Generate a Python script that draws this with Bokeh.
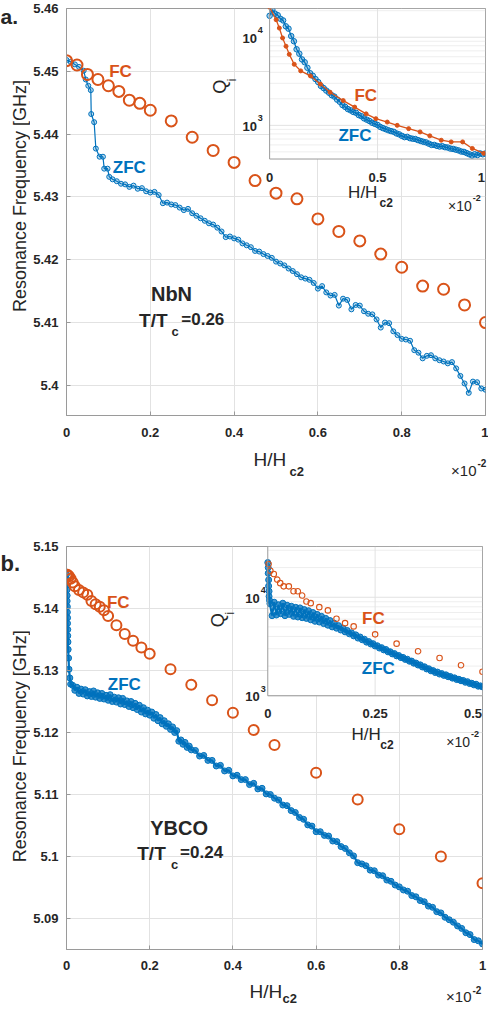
import numpy as np
from bokeh.plotting import figure
from bokeh.models import Range1d, LogScale, FixedTicker, Label, CustomJSTickFormatter
from bokeh.layouts import column, row
from bokeh.embed import file_html
from bokeh.resources import INLINE

BLUE = "#0072BD"
ORANGE = "#D95319"
AXC = "#9a9a9a"
GRID = "#e2e2e2"
MINOR = "#eeeeee"
TXT = "#262626"
FONT = "Liberation Sans"

# ------------------------------------------------------------------ data
x_ticks = [0, 0.2, 0.4, 0.6, 0.8, 1]
x_tick_labels = ["0", "0.2", "0.4", "0.6", "0.8", "1"]
ya_ticks = [5.40, 5.41, 5.42, 5.43, 5.44, 5.45, 5.46]
ya_tick_labels = ["5.4", "5.41", "5.42", "5.43", "5.44", "5.45", "5.46"]
yb_ticks = [5.09, 5.10, 5.11, 5.12, 5.13, 5.14, 5.15]
yb_tick_labels = ["5.09", "5.1", "5.11", "5.12", "5.13", "5.14", "5.15"]

# panel a (NbN) main: resonance frequency [GHz]
fc_a_x = [0, 0.025, 0.05, 0.075, 0.1, 0.125, 0.15, 0.175, 0.2, 0.25, 0.3, 0.35, 0.4,
          0.45, 0.5, 0.55, 0.6, 0.65, 0.7, 0.75, 0.8, 0.85, 0.9, 0.95, 1.0]
fc_a_f = [5.4517, 5.4510, 5.4495, 5.4487, 5.4477, 5.4468, 5.4454, 5.4449, 5.4438, 5.4421,
          5.4395, 5.4374, 5.4355, 5.4326, 5.4306, 5.4297, 5.4265, 5.4245, 5.4230, 5.4209,
          5.4188, 5.4158, 5.4153, 5.4128, 5.4100]
zfc_a_x = [0, 0.01, 0.02, 0.03, 0.041, 0.046, 0.052, 0.058, 0.059, 0.066, 0.07, 0.079,
           0.087, 0.09, 0.098, 0.102,
           0.11, 0.12, 0.13, 0.14, 0.15, 0.16, 0.17, 0.18, 0.19, 0.20,
           0.21, 0.22, 0.23, 0.24, 0.25, 0.26, 0.27, 0.28, 0.29, 0.30,
           0.31, 0.32, 0.33, 0.34, 0.35, 0.36, 0.37, 0.38, 0.39, 0.40,
           0.41, 0.42, 0.43, 0.44, 0.45, 0.46, 0.47, 0.48, 0.49, 0.50,
           0.51, 0.52, 0.53, 0.54, 0.55, 0.56, 0.57, 0.58, 0.59, 0.60,
           0.61, 0.62, 0.63, 0.64, 0.65, 0.66, 0.67, 0.68, 0.69, 0.70,
           0.71, 0.72, 0.73, 0.74, 0.75, 0.76, 0.77, 0.78, 0.79, 0.80,
           0.81, 0.82, 0.83, 0.84, 0.85, 0.86, 0.87, 0.88, 0.89, 0.90,
           0.91, 0.92, 0.93, 0.94, 0.95, 0.96, 0.97, 0.98, 0.99, 1.00]
zfc_a_f = [5.4518, 5.4515, 5.4511, 5.4507, 5.4501, 5.4487, 5.4477, 5.4470, 5.4432, 5.4419,
           5.4377, 5.4364, 5.4364, 5.4345, 5.4345, 5.4332,
           5.4328, 5.4325, 5.4321, 5.4320, 5.4316, 5.4318, 5.4313, 5.4314, 5.4309, 5.4307,
           5.4308, 5.4303, 5.4290, 5.4291, 5.4288, 5.4287, 5.4283, 5.4279, 5.4281, 5.4274,
           5.4270, 5.4266, 5.4262, 5.4258, 5.4256, 5.4251, 5.4245, 5.4236, 5.4237, 5.4234,
           5.4232, 5.4226, 5.4223, 5.4220, 5.4214, 5.4213, 5.4209, 5.4206, 5.4203, 5.4197,
           5.4194, 5.4191, 5.4186, 5.4182, 5.4177, 5.4172, 5.4170, 5.4168, 5.4163, 5.4154,
           5.4158, 5.4148, 5.4143, 5.4144, 5.4127, 5.4138, 5.4136, 5.4121, 5.4128, 5.4127,
           5.4118, 5.4114, 5.4113, 5.4105, 5.4092, 5.4100, 5.4099, 5.4086, 5.4080, 5.4074,
           5.4073, 5.4071, 5.4056, 5.4052, 5.4043, 5.4047, 5.4048, 5.4043, 5.4040, 5.4038,
           5.4035, 5.4037, 5.4027, 5.4015, 5.4003, 5.3988, 5.4006, 5.4005, 5.3995, 5.3993]

# panel a inset: internal quality factor Qi
ins_a_fc_x = [0, 0.03, 0.045, 0.06, 0.076, 0.091, 0.114, 0.144, 0.189, 0.235, 0.28, 0.341,
              0.394, 0.447, 0.492, 0.545, 0.591, 0.644, 0.697, 0.742, 0.795, 0.841, 0.894,
              0.939, 0.992]
ins_a_fc_q = [21900, 15800, 12700, 9800, 7900, 6390, 4930, 4150, 3640, 2940, 2370, 1910,
              1610, 1350, 1190, 1090, 1000, 918, 842, 760, 678, 649, 649, 547, 481]
ins_a_zfc_x = [0, 0.0125, 0.025, 0.0375, 0.05, 0.0625, 0.075, 0.0875, 0.1, 0.1125, 0.125,
               0.1375, 0.15, 0.1625, 0.175, 0.1875, 0.2, 0.2125, 0.225, 0.2375, 0.25, 0.2625,
               0.275, 0.2875, 0.3, 0.3125, 0.325, 0.3375, 0.35, 0.3625, 0.375, 0.3875, 0.4,
               0.4125, 0.425, 0.4375, 0.45, 0.4625, 0.475, 0.4875, 0.5, 0.5125, 0.525, 0.5375,
               0.55, 0.5625, 0.575, 0.5875, 0.6, 0.6125, 0.625, 0.6375, 0.65, 0.6625, 0.675,
               0.6875, 0.7, 0.7125, 0.725, 0.7375, 0.75, 0.7625, 0.775, 0.7875, 0.8, 0.8125,
               0.825, 0.8375, 0.85, 0.8625, 0.875, 0.8875, 0.9, 0.9125, 0.925, 0.9375, 0.95,
               0.9625, 0.975, 0.9875, 1.0]
ins_a_zfc_q = [17500, 20500, 18500, 17800, 16200, 15500, 13300, 12500, 10300, 9000, 7300,
               6500, 5600, 5200, 4500, 3900, 3650, 3350, 3100, 2800, 2650, 2480, 2350, 2200,
               2120, 1960, 1850, 1700, 1620, 1530, 1480, 1420, 1390, 1310, 1270, 1200, 1160,
               1120, 1070, 1040, 1010, 960, 930, 905, 880, 860, 845, 810, 790, 760, 735, 740,
               715, 705, 700, 680, 665, 650, 640, 620, 600, 600, 585, 575, 580, 565, 560, 545,
               540, 530, 520, 505, 500, 485, 470, 455, 470, 460, 480, 470, 480]
ins_a_x_ticks = [0, 0.5, 1]
ins_a_x_tick_labels = ["0", "0.5", "1"]

# panel b (YBCO) main
fc_b_x = [0, 0.003, 0.006, 0.01, 0.015, 0.02, 0.03, 0.04, 0.05, 0.06, 0.07, 0.08, 0.09, 0.1,
          0.12, 0.14, 0.16, 0.18, 0.2, 0.25, 0.3, 0.35, 0.4, 0.45, 0.5, 0.6, 0.7, 0.8, 0.9, 1.0]
fc_b_f = [5.1455, 5.1454, 5.1452, 5.1448, 5.1442, 5.1436, 5.1430, 5.1426, 5.1422, 5.1412,
          5.1407, 5.1403, 5.1397, 5.1388, 5.1373, 5.1359, 5.1348, 5.1337, 5.1327, 5.1302,
          5.1277, 5.1252, 5.1232, 5.1204, 5.1180, 5.1135, 5.1092, 5.1044, 5.1000, 5.0957]
zfc_b_x = [0, 0.0005, 0.001, 0.001, 0.0015, 0.0015, 0.002, 0.002, 0.0025, 0.0025, 0.003,
           0.003, 0.0035, 0.004, 0.005, 0.006, 0.008, 0.010,
           0.015, 0.020, 0.025, 0.030, 0.035, 0.040, 0.045, 0.050, 0.055, 0.060,
           0.065, 0.070, 0.075, 0.080, 0.085, 0.090, 0.095, 0.100, 0.105, 0.110,
           0.115, 0.120, 0.125, 0.130, 0.135, 0.140, 0.145, 0.150, 0.155, 0.160,
           0.165, 0.170, 0.175, 0.180, 0.185, 0.190, 0.195, 0.200, 0.205, 0.210,
           0.215, 0.220, 0.225, 0.230, 0.235, 0.240, 0.245, 0.250, 0.255, 0.260,
           0.265, 0.270, 0.275, 0.280, 0.285, 0.290, 0.295, 0.300,
           0.31, 0.32, 0.33, 0.34, 0.35, 0.36, 0.37, 0.38, 0.39, 0.40,
           0.41, 0.42, 0.43, 0.44, 0.45, 0.46, 0.47, 0.48, 0.49, 0.50,
           0.51, 0.52, 0.53, 0.54, 0.55, 0.56, 0.57, 0.58, 0.59, 0.60,
           0.61, 0.62, 0.63, 0.64, 0.65, 0.66, 0.67, 0.68, 0.69, 0.70,
           0.71, 0.72, 0.73, 0.74, 0.75, 0.76, 0.77, 0.78, 0.79, 0.80,
           0.81, 0.82, 0.83, 0.84, 0.85, 0.86, 0.87, 0.88, 0.89, 0.90,
           0.91, 0.92, 0.93, 0.94, 0.95, 0.96, 0.97, 0.98, 0.99, 1.00]
zfc_b_f = [5.1455, 5.1447, 5.1438, 5.1430, 5.1421, 5.1412, 5.1403, 5.1394, 5.1385, 5.1376,
           5.1366, 5.1356, 5.1346, 5.1334, 5.1320, 5.1302, 5.1288, 5.1278,
           5.1276, 5.1268, 5.1273, 5.1263, 5.1270, 5.1262, 5.1269, 5.1259, 5.1266, 5.1258,
           5.1267, 5.1257, 5.1264, 5.1255, 5.1263, 5.1254, 5.1260, 5.1252, 5.1261, 5.1250,
           5.1257, 5.1249, 5.1256, 5.1246, 5.1255, 5.1245, 5.1251, 5.1242, 5.1250, 5.1240,
           5.1247, 5.1237, 5.1244, 5.1233, 5.1240, 5.1230, 5.1236, 5.1228, 5.1233, 5.1223,
           5.1229, 5.1219, 5.1224, 5.1214, 5.1219, 5.1210, 5.1214, 5.1205, 5.1209, 5.1200,
           5.1203, 5.1186, 5.1188, 5.1181, 5.1184, 5.1176, 5.1178, 5.1172,
           5.1171, 5.1162, 5.1163, 5.1155, 5.1155, 5.1146, 5.1147, 5.1138, 5.1139, 5.1130,
           5.1131, 5.1124, 5.1124, 5.1116, 5.1118, 5.1109, 5.1110, 5.1101, 5.1100, 5.1094,
           5.1091, 5.1083, 5.1082, 5.1074, 5.1071, 5.1063, 5.1060, 5.1051, 5.1049, 5.1040,
           5.1040, 5.1034, 5.1033, 5.1025, 5.1024, 5.1016, 5.1013, 5.1006, 5.1001, 5.0990,
           5.0988, 5.0985, 5.0978, 5.0977, 5.0970, 5.0969, 5.0962, 5.0960, 5.0954, 5.0951,
           5.0946, 5.0944, 5.0937, 5.0935, 5.0929, 5.0927, 5.0920, 5.0918, 5.0911, 5.0909,
           5.0902, 5.0898, 5.0894, 5.0888, 5.0884, 5.0877, 5.0874, 5.0866, 5.0864, 5.0859]

# panel b inset
ins_b_fc_x = [0.002, 0.006, 0.014, 0.022, 0.029, 0.037, 0.049, 0.06, 0.07, 0.08, 0.09, 0.1,
              0.12, 0.14, 0.16, 0.18, 0.2, 0.25, 0.3, 0.35, 0.4, 0.45, 0.5]
ins_b_fc_q = [21700, 18600, 17200, 15100, 13900, 12900, 12900, 11500, 11500, 10400, 9050,
              8710, 7930, 7350, 6040, 5460, 5060, 4200, 3380, 2830, 2420, 2040, 1750]
ins_b_zfc_x = [0, 0.001, 0.001, 0.002, 0.002, 0.003, 0.003, 0.004,
               0.005, 0.010, 0.015, 0.020, 0.025, 0.030, 0.035, 0.040, 0.045, 0.050,
               0.055, 0.060, 0.065, 0.070, 0.075, 0.080, 0.085, 0.090, 0.095, 0.100,
               0.105, 0.110, 0.115, 0.120, 0.125, 0.130, 0.135, 0.140, 0.145, 0.150,
               0.155, 0.160, 0.165, 0.170, 0.175, 0.180, 0.185, 0.190, 0.195, 0.200,
               0.205, 0.210, 0.215, 0.220, 0.225, 0.230, 0.235, 0.240, 0.245, 0.250,
               0.255, 0.260, 0.265, 0.270, 0.275, 0.280, 0.285, 0.290, 0.295, 0.300,
               0.305, 0.310, 0.315, 0.320, 0.325, 0.330, 0.335, 0.340, 0.345, 0.350,
               0.355, 0.360, 0.365, 0.370, 0.375, 0.380, 0.385, 0.390, 0.395, 0.400,
               0.405, 0.410, 0.415, 0.420, 0.425, 0.430, 0.435, 0.440, 0.445, 0.450,
               0.455, 0.460, 0.465, 0.470, 0.475, 0.480, 0.485, 0.490, 0.495, 0.500]
ins_b_zfc_q = [22500, 20000, 17500, 15000, 13000, 11500, 10200, 9300,
               8600, 6500, 8900, 6600, 8400, 6800, 8700, 6500, 8300, 6700,
               8100, 6400, 7900, 6300, 7800, 6200, 7500, 6100, 7300, 5900,
               7000, 5700, 6700, 5600, 6400, 5400, 6100, 5200, 5800, 5000,
               5450, 4850, 5150, 4650, 4850, 4450, 4600, 4250, 4350, 4050,
               4150, 3850, 3950, 3700, 3750, 3500, 3550, 3350, 3380, 3200,
               3220, 3050, 3080, 2920, 2950, 2790, 2800, 2660, 2680, 2540,
               2560, 2440, 2450, 2340, 2350, 2240, 2250, 2140, 2150, 2050,
               2060, 1960, 1970, 1870, 1880, 1790, 1800, 1720, 1740, 1660,
               1680, 1610, 1630, 1560, 1570, 1510, 1520, 1460, 1470, 1420,
               1430, 1370, 1390, 1330, 1340, 1290, 1310, 1250, 1260, 1230]
ins_b_x_ticks = [0, 0.25, 0.5]
ins_b_x_tick_labels = ["0", "0.25", "0.5"]

q_grid_a = [500, 600, 700, 800, 900, 1000, 2000, 3000, 4000, 5000, 6000, 7000, 8000,
            9000, 10000, 20000]
q_grid_b = [1000, 2000, 3000, 4000, 5000, 6000, 7000, 8000, 9000, 10000, 20000, 30000]
q_major = [1000, 10000]
q_major_sup = ["3", "4"]

Y_LABEL = "Resonance Frequency [GHz]"


def fmt(tv, tl):
    return CustomJSTickFormatter(args=dict(tv=tv, tl=tl), code="""
        for (let i = 0; i < tv.length; i++) {
            if (Math.abs(tv[i] - tick) < 1e-7) { return tl[i]; }
        }
        return "";
    """)


def add_label(p, text, x, y, size, color=TXT, bold=False, align="left", angle=0.0):
    p.add_layout(Label(x=x, y=y, text=text, text_font=FONT, text_font_size=f"{size}px",
                       text_font_style="bold" if bold else "normal",
                       text_color=color, text_align=align, text_baseline="middle",
                       angle=angle))


def strip(x0, x1, y0, y1, texts):
    """A text-only figure whose data coordinates are page pixels."""
    s = figure(width=x1 - x0, height=y1 - y0, x_range=Range1d(x0, x1),
               y_range=Range1d(y1, y0), output_backend="svg", toolbar_location=None,
               min_border=0, x_axis_location=None, y_axis_location=None)
    s.outline_line_color = None
    s.background_fill_color = "white"
    s.border_fill_color = "white"
    s.grid.visible = False
    s.scatter([x0], [y0], size=0, alpha=0)
    for t in texts:
        add_label(s, t[0], t[1], t[2], t[3], **t[4])
    return s


def make_panel(P):
    L, R, T, B = P["frame"]          # my frame, page px
    Lr, Rr, Tr, Br = P["ref_frame"]  # reference frame, page px
    xmin, xmax = P["xr"]
    ymin, ymax = P["yr"]
    X0, X1, Y0, Y1 = P["box"]        # figure box, page px

    def fx(px):
        return xmin + (px - Lr) / (Rr - Lr) * (xmax - xmin)

    def fy(py):
        return ymax - (py - Tr) / (Br - Tr) * (ymax - ymin)

    p = figure(width=X1 - X0, height=Y1 - Y0, x_range=Range1d(xmin, xmax),
               y_range=Range1d(ymin, ymax), output_backend="svg", toolbar_location=None,
               min_border_left=L - X0, min_border_right=X1 - R,
               min_border_top=T - Y0, min_border_bottom=Y1 - B)
    p.background_fill_color = "white"
    p.border_fill_color = "white"
    p.outline_line_color = AXC
    p.outline_line_width = 1

    p.xaxis.ticker = FixedTicker(ticks=x_ticks)
    p.xaxis.formatter = fmt(x_ticks, x_tick_labels)
    p.yaxis.ticker = FixedTicker(ticks=P["yticks"])
    p.yaxis.formatter = fmt(P["yticks"], P["ylabels"])
    for ax in (p.xaxis[0], p.yaxis[0]):
        ax.axis_line_color = AXC
        ax.major_tick_line_color = AXC
        ax.major_tick_in = 4
        ax.major_tick_out = 0
        ax.minor_tick_line_color = None
        ax.major_label_text_font = FONT
        ax.major_label_text_font_size = "13px"
        ax.major_label_text_font_style = "bold"
        ax.major_label_text_color = TXT
    p.xaxis.major_label_standoff = P["xstandoff"]
    p.yaxis.major_label_standoff = 8
    p.grid.grid_line_color = GRID

    def lab(text, px, py, size, **kw):
        add_label(p, text, fx(px), fy(py), size, **kw)

    # ---- main data
    p.line(P["zfc_x"], P["zfc_f"], line_color=BLUE, line_width=P["zfc_lw"])
    p.scatter(P["zfc_x"], P["zfc_f"], marker="circle", size=P["zfc_size"],
              line_color=BLUE, line_width=1, fill_color=BLUE, fill_alpha=P["zfc_alpha"])
    p.scatter(P["fc_x"], P["fc_f"], marker="circle", size=P["fc_size"],
              line_color=ORANGE, line_width=2, fill_color=None)

    # ---- inset (same canvas, own x range and log-scaled y range)
    I = P["inset"]
    ipx0, ipx1, ipy0, ipy1 = I["box"]
    ix0, ix1 = I["xr"]
    bx0, bx1 = fx(ipx0), fx(ipx1)
    by_top, by_bot = fy(ipy0), fy(ipy1)
    kb = (bx1 - bx0) / (ix1 - ix0)
    ka = bx0 - kb * ix0
    y4, y3 = fy(I["py_1e4"]), fy(I["py_1e3"])
    d = y4 - y3
    c = y3 - 3 * d
    p.extra_x_ranges = {"ix": Range1d((xmin - ka) / kb, (xmax - ka) / kb)}
    p.extra_y_ranges = {"iy": Range1d(10 ** ((ymin - c) / d), 10 ** ((ymax - c) / d))}
    p.extra_y_scales = {"iy": LogScale()}
    qlo = 10 ** ((by_bot - c) / d)
    qhi = 10 ** ((by_top - c) / d)

    p.quad(left=bx0, right=bx1, bottom=by_bot, top=by_top, fill_color="white", line_color=None)
    qg = [q for q in I["qgrid"] if qlo <= q <= qhi]
    p.segment(x0=[ix0] * len(qg), y0=qg, x1=[ix1] * len(qg), y1=qg,
              x_range_name="ix", y_range_name="iy",
              line_color=[GRID if q in q_major else MINOR for q in qg], line_width=1)
    xg = I["xticks"][1:-1]
    p.segment(x0=xg, y0=[qlo] * len(xg), x1=xg, y1=[qhi] * len(xg),
              x_range_name="ix", y_range_name="iy", line_color=GRID, line_width=1)

    p.line(I["zfc_x"], I["zfc_q"], line_color=BLUE, line_width=I["zfc_lw"],
           x_range_name="ix", y_range_name="iy")
    p.scatter(I["zfc_x"], I["zfc_q"], marker="circle", size=I["zfc_size"], line_color=BLUE,
              line_width=1, fill_color=BLUE, fill_alpha=I["zfc_alpha"],
              x_range_name="ix", y_range_name="iy")
    if I["fc_line"]:
        p.line(I["fc_x"], I["fc_q"], line_color=ORANGE, line_width=1.3,
               x_range_name="ix", y_range_name="iy")
        p.scatter(I["fc_x"], I["fc_q"], marker="circle", size=4, line_color=ORANGE,
                  fill_color=ORANGE, x_range_name="ix", y_range_name="iy")
    else:
        p.scatter(I["fc_x"], I["fc_q"], marker="circle", size=5.5, line_color=ORANGE,
                  line_width=1.1, fill_color=None, x_range_name="ix", y_range_name="iy")
    p.quad(left=bx0, right=bx1, bottom=by_bot, top=by_top, fill_color=None,
           line_color=AXC, line_width=1)

    # inset tick labels
    n = len(I["xticks"])
    for k, (t, s) in enumerate(zip(I["xticks"], I["xlabels"])):
        px = ipx0 + (t - ix0) / (ix1 - ix0) * (ipx1 - ipx0)
        if k == n - 1:
            lab(s, px - 0.5, I["xlab_py"], 13, bold=True, align="right")
        else:
            lab(s, px, I["xlab_py"], 13, bold=True, align="center")
    for q, s in zip(q_major, q_major_sup):
        py = I["py_1e4"] + (4 - np.log10(q)) * (I["py_1e3"] - I["py_1e4"])
        lab("10", I["ylab_px"], py + 1, 13, bold=True, align="right")
        lab(s, I["ylab_px"] + 1, py - 7, 9, bold=True)

    for t in P["texts"]:
        lab(t[0], t[1], t[2], t[3], **t[4])
    return p


# texts inside the frames (reference page pixels)
TA = [
    ("FC", 128, 76, 17, dict(color=ORANGE, bold=True, align="center")),
    ("ZFC", 137, 173, 17, dict(color=BLUE, bold=True, align="center")),
    ("NbN", 180, 300, 20, dict(bold=True, align="center")),
    ("T/T", 147, 327, 19, dict(bold=True)),
    ("c", 180, 338, 13, dict(bold=True)),
    ("=0.26", 190, 326, 17, dict(bold=True)),
    ("FC", 378, 100, 17, dict(color=ORANGE, bold=True, align="center")),
    ("ZFC", 367, 140, 17, dict(color=BLUE, bold=True, align="center")),
    ("Q", 229, 91, 18, dict(align="center", angle=np.pi / 2)),
    ("i", 242, 84, 12, dict(align="center", angle=np.pi / 2)),
    ("H/H", 360, 198, 17, dict()),
    ("c2", 392, 208, 12, dict(bold=True)),
    ("×10", 486, 211, 14, dict(align="right")),
    ("-2", 487, 203, 9, dict(bold=True)),
]
TB = [
    ("FC", 124, 610, 17, dict(color=ORANGE, bold=True, align="center")),
    ("ZFC", 130, 693, 17, dict(color=BLUE, bold=True, align="center")),
    ("YBCO", 185, 837, 20, dict(bold=True, align="center")),
    ("T/T", 143, 863, 19, dict(bold=True)),
    ("c", 177, 874, 13, dict(bold=True)),
    ("=0.24", 186, 862, 17, dict(bold=True)),
    ("FC", 380, 626, 17, dict(color=ORANGE, bold=True, align="center")),
    ("ZFC", 385, 677, 17, dict(color=BLUE, bold=True, align="center")),
    ("Q", 224, 628, 18, dict(align="center", angle=np.pi / 2)),
    ("i", 236, 621, 12, dict(align="center", angle=np.pi / 2)),
    ("H/H", 358, 743, 17, dict()),
    ("c2", 387, 753, 12, dict(bold=True)),
    ("×10", 477, 750, 14, dict(align="right")),
    ("-2", 478, 742, 9, dict(bold=True)),
]

PA = dict(box=(38, 496, 8, 455), frame=(73, 493, 16, 423), ref_frame=(73, 500, 12, 423),
          xr=(0, 1), yr=(5.3952, 5.46), xstandoff=12,
          yticks=ya_ticks, ylabels=ya_tick_labels,
          fc_x=fc_a_x, fc_f=fc_a_f, zfc_x=zfc_a_x, zfc_f=zfc_a_f, fc_size=11, zfc_size=5,
          zfc_lw=1.2, zfc_alpha=0.25,
          inset=dict(box=(280, 500, 12, 164), xr=(0, 1), py_1e4=41, py_1e3=130,
                     qgrid=q_grid_a, xticks=ins_a_x_ticks, xlabels=ins_a_x_tick_labels,
                     xlab_py=183, ylab_px=267,
                     zfc_x=ins_a_zfc_x, zfc_q=ins_a_zfc_q, zfc_size=5.5, zfc_lw=1.3,
                     zfc_alpha=0.35, fc_x=ins_a_fc_x, fc_q=ins_a_fc_q, fc_line=True),
          texts=TA)

PB = dict(box=(38, 496, 528, 988), frame=(72, 490, 554, 957), ref_frame=(72, 489.5, 554, 959),
          xr=(0, 1), yr=(5.085, 5.15), xstandoff=11,
          yticks=yb_ticks, ylabels=yb_tick_labels,
          fc_x=fc_b_x, fc_f=fc_b_f, zfc_x=zfc_b_x, zfc_f=zfc_b_f, fc_size=10, zfc_size=6,
          zfc_lw=2.2, zfc_alpha=0.75,
          inset=dict(box=(274, 489.5, 554, 704), xr=(0, 0.5), py_1e4=605, py_1e3=704,
                     qgrid=q_grid_b, xticks=ins_b_x_ticks, xlabels=ins_b_x_tick_labels,
                     xlab_py=722, ylab_px=266,
                     zfc_x=ins_b_zfc_x, zfc_q=ins_b_zfc_q, zfc_size=6, zfc_lw=2.2,
                     zfc_alpha=0.75, fc_x=ins_b_fc_x, fc_q=ins_b_fc_q, fc_line=False),
          texts=TB)

pa = make_panel(PA)
pb = make_panel(PB)

# texts outside the frames, in page pixels
left_a = strip(8, 38, 8, 455, [
    ("a.", 8, 17, 21, dict(bold=True)),
    (Y_LABEL, 27, 214, 18, dict(align="center", angle=np.pi / 2)),
])
bottom_a = strip(8, 496, 455, 528, [
    ("H/H", 261, 467, 19, dict()),
    ("c2", 297, 479, 13, dict(bold=True)),
    ("×10", 484, 478, 15, dict(align="right")),
    ("-2", 485, 470, 10, dict(bold=True)),
])
left_b = strip(8, 38, 528, 988, [
    ("b.", 8, 547, 22, dict(bold=True)),
    (Y_LABEL, 27, 756, 18, dict(align="center", angle=np.pi / 2)),
])
bottom_b = strip(8, 496, 988, 1014, [
    ("H/H", 257, 999, 19, dict()),
    ("c2", 290, 1006, 13, dict(bold=True)),
    ("×10", 479, 1004, 15, dict(align="right")),
    ("-2", 480, 997, 10, dict(bold=True)),
])

layout = column(row(left_a, pa, spacing=0), bottom_a, row(left_b, pb, spacing=0), bottom_b,
                spacing=0)

open("out.html", "w").write(file_html(layout, INLINE))
